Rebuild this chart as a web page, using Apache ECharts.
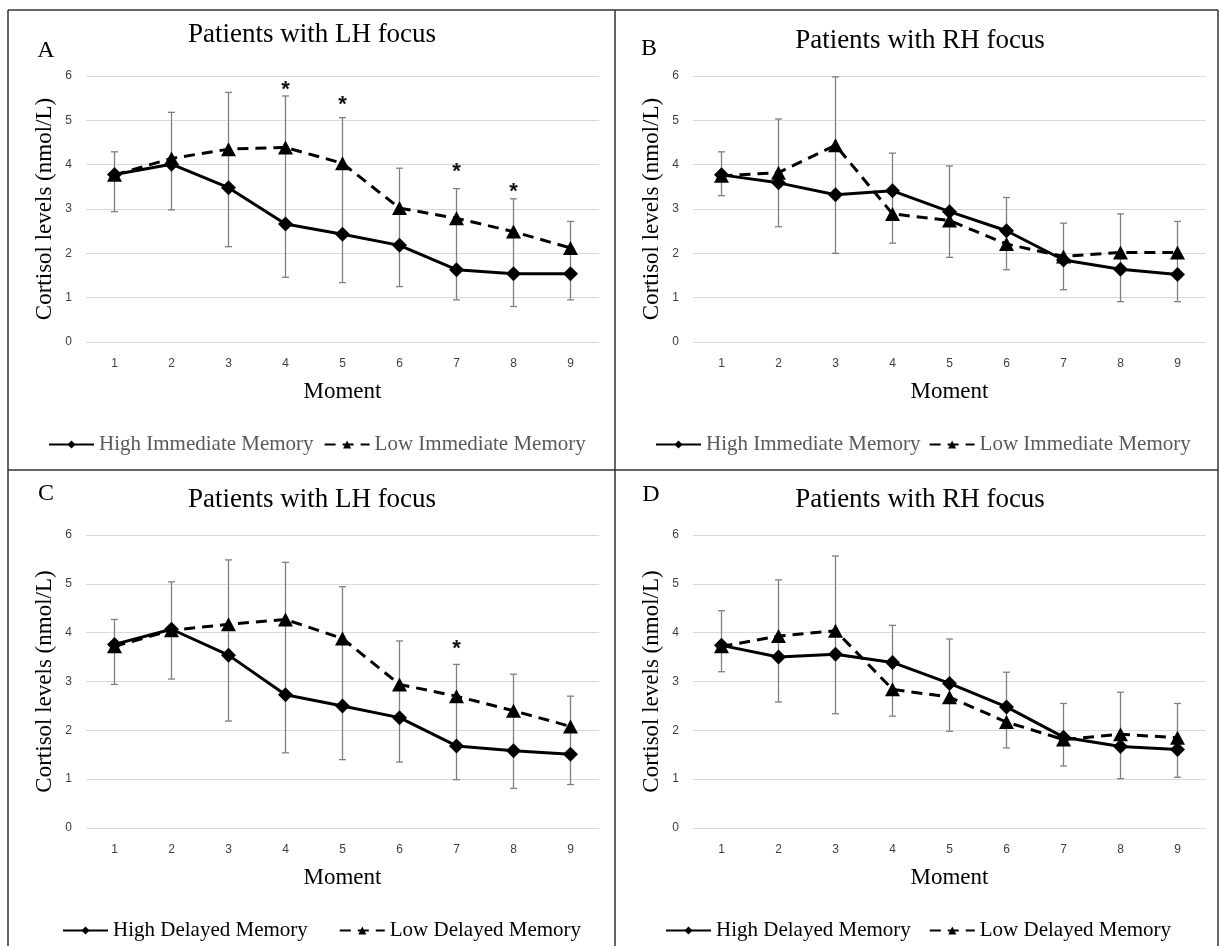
<!DOCTYPE html>
<html>
<head>
<meta charset="utf-8">
<title>Cortisol levels by memory group</title>
<script src="https://cdn.jsdelivr.net/npm/echarts@6/dist/echarts.min.js"></script>
<style>
    html, body { margin: 0; padding: 0; background: #fff; }
    #chart { width: 1220px; height: 946px; }
</style>
</head>
<body>
<div id="chart"></div>
<script>
const moments = ['1', '2', '3', '4', '5', '6', '7', '8', '9'];

// A: LH focus, immediate memory
const highA = [3.78, 4.01, 3.48, 2.66, 2.43, 2.18, 1.63, 1.54, 1.54];
const lowA = [3.77, 4.14, 4.35, 4.39, 4.03, 3.02, 2.79, 2.49, 2.12];
const topA = [4.29, 5.18, 5.63, 5.55, 5.06, 3.92, 3.46, 3.23, 2.72];
const botA = [2.94, 2.98, 2.15, 1.46, 1.34, 1.25, 0.95, 0.80, 0.95];
const starA = [null, null, null, 5.80, 5.46, null, 3.94, 3.49, null];

// B: RH focus, immediate memory
const highB = [3.77, 3.59, 3.32, 3.41, 2.94, 2.51, 1.85, 1.64, 1.52];
const lowB = [3.75, 3.82, 4.44, 2.89, 2.74, 2.21, 1.93, 2.02, 2.02];
const topB = [4.29, 5.03, 5.98, 4.26, 3.97, 3.26, 2.68, 2.89, 2.72];
const botB = [3.30, 2.60, 2.00, 2.23, 1.91, 1.63, 1.18, 0.91, 0.91];
const starB = [null, null, null, null, null, null, null, null, null];

// C: LH focus, delayed memory
const highC = [3.76, 4.07, 3.54, 2.73, 2.50, 2.26, 1.68, 1.58, 1.51];
const lowC = [3.72, 4.05, 4.17, 4.27, 3.88, 2.94, 2.70, 2.40, 2.08];
const topC = [4.27, 5.04, 5.49, 5.44, 4.94, 3.83, 3.35, 3.15, 2.70];
const botC = [2.94, 3.05, 2.19, 1.54, 1.40, 1.35, 0.99, 0.81, 0.89];
const starC = [null, null, null, null, null, null, 3.76, null, null];

// D: RH focus, delayed memory
const highD = [3.74, 3.50, 3.56, 3.39, 2.96, 2.48, 1.86, 1.67, 1.61];
const lowD = [3.72, 3.93, 4.04, 2.84, 2.68, 2.17, 1.81, 1.92, 1.85];
const topD = [4.45, 5.08, 5.57, 4.15, 3.87, 3.19, 2.55, 2.78, 2.55];
const botD = [3.20, 2.58, 2.34, 2.29, 1.98, 1.64, 1.27, 1.01, 1.04];
const starD = [null, null, null, null, null, null, null, null, null];

const immNames = ['High Immediate Memory', 'Low Immediate Memory'];
const delNames = ['High Delayed Memory', 'Low Delayed Memory'];

const SERIF = '"Liberation Serif", "Times New Roman", serif';
const SANS = '"Liberation Sans", Arial, sans-serif';

const panels = [
    { high: highA, low: lowA, top: topA, bot: botA, star: starA, names: immNames },
    { high: highB, low: lowB, top: topB, bot: botB, star: starB, names: immNames },
    { high: highC, low: lowC, top: topC, bot: botC, star: starC, names: delNames },
    { high: highD, low: lowD, top: topD, bot: botD, star: starD, names: delNames }
];

const grids = [
    { left: 86, top: 76, width: 513, height: 266 },
    { left: 693, top: 76, width: 513, height: 266 },
    { left: 86, top: 535, width: 513, height: 293 },
    { left: 693, top: 535, width: 513, height: 293 }
];

function errorBars(params, api) {
    const lo = api.coord([api.value(0), api.value(1)]);
    const hi = api.coord([api.value(0), api.value(2)]);
    const c = 3.5;
    const style = { stroke: '#808080', lineWidth: 1.3 };
    return {
        type: 'group',
        children: [
            { type: 'line', shape: { x1: lo[0], y1: lo[1], x2: hi[0], y2: hi[1] }, style: style },
            { type: 'line', shape: { x1: lo[0] - c, y1: lo[1], x2: lo[0] + c, y2: lo[1] }, style: style },
            { type: 'line', shape: { x1: hi[0] - c, y1: hi[1], x2: hi[0] + c, y2: hi[1] }, style: style }
        ]
    };
}

function stars(params, api) {
    const p = api.coord([api.value(0), api.value(1)]);
    return {
        type: 'text',
        x: p[0],
        y: p[1] + 5,
        style: {
            text: '*',
            font: 'bold 22px ' + SANS,
            fill: '#111',
            align: 'center',
            verticalAlign: 'middle'
        }
    };
}

const xAxes = grids.map((g, i) => ({
    type: 'category',
    gridIndex: i,
    data: moments,
    axisLine: { show: false },
    axisTick: { show: false },
    axisLabel: { margin: 16, fontSize: 12, color: '#404040', fontFamily: SANS },
    name: 'Moment',
    nameLocation: 'middle',
    nameGap: 38,
    nameTextStyle: { fontFamily: SERIF, fontSize: 23, color: '#000' }
}));

const yAxes = grids.map((g, i) => ({
    type: 'value',
    gridIndex: i,
    min: 0,
    max: 6,
    interval: 1,
    axisLine: { show: false },
    axisTick: { show: false },
    splitLine: { lineStyle: { color: '#d9d9d9', width: 1 } },
    axisLabel: { margin: 14, fontSize: 12, color: '#404040', fontFamily: SANS },
    name: 'Cortisol levels (nmol/L)',
    nameLocation: 'middle',
    nameGap: 30,
    nameTextStyle: { fontFamily: SERIF, fontSize: 23, color: '#000' }
}));

const series = [];
panels.forEach((p, i) => {
    series.push({
        type: 'custom',
        xAxisIndex: i,
        yAxisIndex: i,
        z: 1,
        silent: true,
        renderItem: errorBars,
        data: moments.map((m, k) => [k, p.bot[k], p.top[k]])
    });
    series.push({
        type: 'line',
        name: p.names[0],
        xAxisIndex: i,
        yAxisIndex: i,
        z: 3,
        data: p.high,
        symbol: 'diamond',
        symbolSize: 15,
        lineStyle: { color: '#000', width: 3 },
        itemStyle: { color: '#000' }
    });
    series.push({
        type: 'line',
        name: p.names[1],
        xAxisIndex: i,
        yAxisIndex: i,
        z: 3,
        data: p.low,
        symbol: 'triangle',
        symbolSize: [15, 14],
        lineStyle: { color: '#000', width: 3, type: [11, 7] },
        itemStyle: { color: '#000' }
    });
    const starData = [];
    p.star.forEach((v, k) => { if (v !== null) starData.push([k, v]); });
    if (starData.length) {
        series.push({
            type: 'custom',
            xAxisIndex: i,
            yAxisIndex: i,
            z: 4,
            silent: true,
            renderItem: stars,
            data: starData
        });
    }
});

function legendAt(names, left, top, gap, color) {
    return {
        data: names,
        left: left,
        top: top,
        padding: 0,
        itemGap: gap,
        itemWidth: 45,
        itemHeight: 10,
        selectedMode: false,
        textStyle: { fontFamily: SERIF, fontSize: 21, color: color }
    };
}

const legends = [
    legendAt(immNames, 48, 434, 10, '#595959'),
    legendAt(immNames, 655, 434, 8, '#595959'),
    legendAt(delNames, 62, 920, 31, '#000'),
    legendAt(delNames, 665, 920, 18, '#000')
];

function label(text, x, y, size) {
    return {
        type: 'text',
        x: x,
        y: y,
        style: { text: text, font: size + 'px ' + SERIF, fill: '#000', align: 'center', verticalAlign: 'middle' }
    };
}

function rule(x1, y1, x2, y2) {
    return { type: 'line', shape: { x1: x1, y1: y1, x2: x2, y2: y2 }, style: { stroke: '#333', lineWidth: 1.5 } };
}

const graphics = [
    rule(8, 10, 1218, 10),
    rule(8, 10, 8, 946),
    rule(1218, 10, 1218, 946),
    rule(615, 10, 615, 946),
    rule(8, 470, 1218, 470),
    label('Patients with LH focus', 312, 35, 27),
    label('Patients with RH focus', 920, 41, 27),
    label('Patients with LH focus', 312, 500, 27),
    label('Patients with RH focus', 920, 500, 27),
    label('A', 46, 51, 24),
    label('B', 649, 49, 24),
    label('C', 46, 494, 24),
    label('D', 651, 495, 24)
];

const chart = echarts.init(document.getElementById('chart'));
chart.setOption({
    animation: false,
    backgroundColor: '#fff',
    grid: grids,
    xAxis: xAxes,
    yAxis: yAxes,
    legend: legends,
    series: series,
    graphic: graphics
});
</script>
</body>
</html>
